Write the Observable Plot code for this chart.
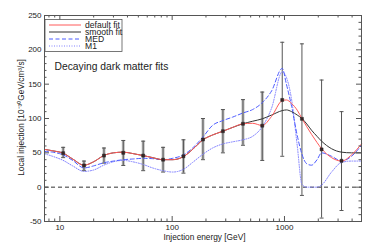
<!DOCTYPE html>
<html><head><meta charset="utf-8">
<script src="https://cdn.jsdelivr.net/npm/d3@7"></script>
<script src="https://cdn.jsdelivr.net/npm/@observablehq/plot@0.6"></script>
<style>html,body{margin:0;padding:0;background:#fff;} svg{display:block;font-family:"Liberation Sans",Arial,sans-serif;}</style>
</head><body><div id="chart"></div>
<script>
// ---- data ----
const energyGrid = [7.3, 8.6, 10.7, 13, 16.4, 20, 24.6, 30, 36.7, 44.4, 55.3, 67, 83, 101, 126, 152, 188, 229, 283, 345, 426, 520, 634, 767, 955, 1040, 1156, 1300, 1430, 1580, 1740, 1950, 2140, 2625, 3220, 3950, 4850];
const defaultFit = [55, 53, 49.5, 41, 32, 37, 46, 50, 51, 49, 46, 43, 40, 40, 44.5, 55, 69, 76, 81.5, 87, 92.3, 93, 89.8, 103, 126, 127, 122, 112, 100, 88, 77, 65, 56, 43, 38, 47, 63];
const smoothFit = [55, 53, 49.5, 41, 32, 37, 46, 50, 51, 49, 46, 43, 40, 40, 44.5, 55, 69, 76, 81.5, 87, 92.3, 96, 99.5, 105, 111.5, 112.5, 110, 105, 100, 92, 83, 74, 67, 56, 51, 50, 50];
const medFit = [52, 51, 47, 39, 28, 31, 35.5, 38, 40, 41, 42, 41.5, 40, 42, 47, 57, 73, 90, 97, 102, 108, 113, 123, 140, 173, 150, 118, 75, 48, 34, 32, 40, 50, 45, 38, 45, 61];
const m1Fit = [48.6, 45, 39, 31, 23, 25, 32, 37, 39, 37, 33, 28, 24, 22, 26, 36, 48, 57, 63, 66, 69, 74, 88, 115, 168, 160, 128, 60, 4, 0, 0, 0, 3, 22, 36, 38, 38];
const seriesNames = ["default fit", "smooth fit", "MED", "M1"];

const pointEnergy = [10.7, 16.4, 24.7, 36.7, 55.2, 83, 126, 188, 283, 427, 634, 955, 1430, 2140, 3220];
const pointValue  = [49.5, 31.6, 46, 50, 46, 40, 45, 69.4, 81.5, 92.3, 89.5, 127, 99.5, 55, 38.4];
const errLow      = [43, 24, 35, 31.6, 24, 22, 20.4, 40, 50, 61, 38.9, 45, -12, -45, -34];
const errHigh     = [58, 38, 57, 68, 67, 58, 69, 100, 113, 127.5, 138.5, 211, 208.7, 156, 110];

const xTickLabels = [10, 100, 1000];
const yTickLabels = [-50, 0, 50, 100, 150, 200, 250];
const titleText = "Decaying dark matter fits";
const xLabel = "Injection energy [GeV]";
const yLabel = "Local injection [10⁻³⁰GeV/cm³/s]";

// ---- build tables ----
const seriesValues = [defaultFit, smoothFit, medFit, m1Fit];
const curves = seriesNames.map((name, k) => energyGrid.map((e, i) => ({series: name, e, v: seriesValues[k][i]})));
const points = pointEnergy.map((e, i) => ({e, v: pointValue[i], lo: errLow[i], hi: errHigh[i]}));

const W = 374, H = 249, mL = 44, mR = 13, mT = 15, mB = 28;
const innerH = H - mT - mB, innerW = W - mL - mR;
const xDomain = [7.3, 4850], yDomain = [-50, 250];

const xAllTicks = d3.scaleLog().domain(xDomain).ticks().filter(d => d >= xDomain[0] && d <= xDomain[1]);
const xMajor = xAllTicks.filter(d => xTickLabels.includes(d));
const xMinor = xAllTicks.filter(d => !xTickLabels.includes(d));
const yMajor = d3.range(-50, 251, 50);
const yMinor = d3.range(-50, 251, 10).filter(d => !yMajor.includes(d));

const capSymbol = {draw(ctx) { ctx.moveTo(-2, 0); ctx.lineTo(2, 0); }};

const styles = {
  "default fit": {stroke: "#ff5a5a"},
  "smooth fit": {stroke: "#333333"},
  "MED": {stroke: "#4d5cff", strokeDasharray: "4,2.5"},
  "M1": {stroke: "#8080ff", strokeDasharray: "1,1.5"}
};

const tickLen = 5, minorLen = 2.5;
const axisColor = "#555";

const chart = Plot.plot({
  width: W, height: H,
  marginLeft: mL, marginRight: mR, marginTop: mT, marginBottom: mB,
  style: {fontFamily: "Liberation Sans, Arial, sans-serif", background: "#fff", color: "#222"},
  x: {type: "log", domain: xDomain},
  y: {domain: yDomain},
  marks: [
    Plot.ruleY([0], {stroke: "#333", strokeDasharray: "4,3"}),
    Plot.ruleX(points.slice(0, 11), {x: "e", y1: "lo", y2: "hi", stroke: "#bcbcbc", strokeWidth: 3}),
    Plot.ruleX(points, {x: "e", y1: "lo", y2: "hi", stroke: "#555", strokeWidth: 1}),
    Plot.dot(points, {x: "e", y: "lo", symbol: capSymbol, stroke: "#555", strokeWidth: 1}),
    Plot.dot(points, {x: "e", y: "hi", symbol: capSymbol, stroke: "#555", strokeWidth: 1}),
    ...["M1", "MED", "smooth fit", "default fit"].map(name =>
      Plot.line(curves[seriesNames.indexOf(name)], {x: "e", y: "v", curve: "monotone-x", strokeWidth: 1, ...styles[name]})),
    Plot.dot(points, {x: "e", y: "v", symbol: "square", r: 1.7, fill: "#3a2626", stroke: "#222", strokeWidth: 0.5}),
    // inward ticks
    Plot.tickX(xMajor, {x: d => d, insetTop: innerH - tickLen, stroke: axisColor}),
    Plot.tickX(xMinor, {x: d => d, insetTop: innerH - minorLen, stroke: axisColor}),
    Plot.tickX(xMajor, {x: d => d, insetBottom: innerH - tickLen, stroke: axisColor}),
    Plot.tickX(xMinor, {x: d => d, insetBottom: innerH - minorLen, stroke: axisColor}),
    Plot.tickY(yMajor, {y: d => d, insetRight: innerW - tickLen, stroke: axisColor}),
    Plot.tickY(yMinor, {y: d => d, insetRight: innerW - minorLen, stroke: axisColor}),
    Plot.tickY(yMajor, {y: d => d, insetLeft: innerW - tickLen, stroke: axisColor}),
    Plot.tickY(yMinor, {y: d => d, insetLeft: innerW - minorLen, stroke: axisColor}),
    Plot.frame({stroke: axisColor}),
    Plot.axisX({ticks: xTickLabels, tickFormat: d => String(d), tickSize: 0, tickPadding: 3, fontSize: 8, label: null}),
    Plot.axisY({ticks: yTickLabels, tickFormat: d => String(d), tickSize: 0, tickPadding: 3, fontSize: 8, label: null}),
    Plot.text([titleText], {frameAnchor: "top-left", dx: 10, dy: 51, text: d => d, fontSize: 10.3, textAnchor: "start", lineAnchor: "middle", fill: "#222"})
  ]
});

const svg = d3.select(chart);
// axis titles
svg.append("text").attr("x", mL + innerW / 2 + 2).attr("y", 240).attr("text-anchor", "middle")
  .attr("font-size", 8.3).attr("fill", "#222").text(xLabel);
svg.append("text").attr("transform", `translate(23.5,${117.5}) rotate(-90)`).attr("text-anchor", "middle")
  .attr("font-size", 8.3).attr("fill", "#222").text(yLabel);
// legend
const lg = svg.append("g").attr("text-anchor", "start");
lg.append("rect").attr("x", 45).attr("y", 19.5).attr("width", 77).attr("height", 32)
  .attr("fill", "#fff").attr("stroke", "#555").attr("stroke-width", 0.8);
const legendOrder = ["default fit", "smooth fit", "MED", "M1"];
legendOrder.forEach((name, i) => {
  const y = 25 + i * 7;
  const s = styles[name];
  lg.append("line").attr("x1", 49).attr("x2", 81).attr("y1", y).attr("y2", y)
    .attr("stroke", s.stroke).attr("stroke-width", 1).attr("stroke-dasharray", s.strokeDasharray || null);
  lg.append("text").attr("x", 85).attr("y", y + 3).attr("text-anchor", "start")
    .attr("font-size", 8.6).attr("fill", "#222").text(name);
});

document.getElementById("chart").appendChild(chart);
</script>
</body></html>
